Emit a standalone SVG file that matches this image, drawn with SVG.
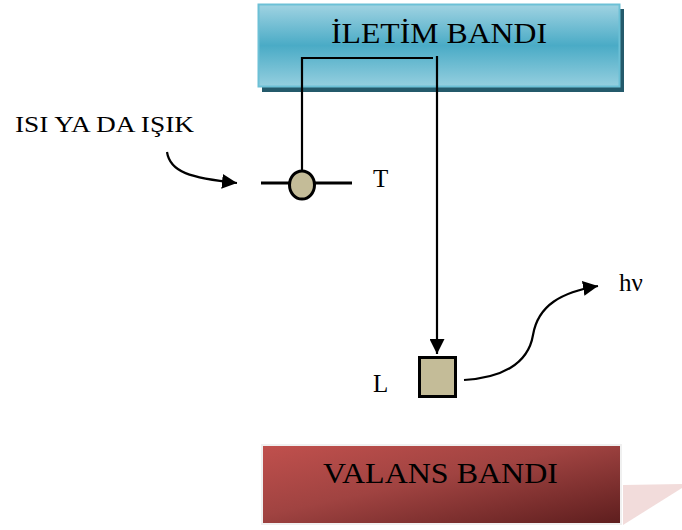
<svg xmlns="http://www.w3.org/2000/svg" width="682" height="530" viewBox="0 0 682 530">
<defs>
<linearGradient id="gBlue" x1="0" y1="0" x2="0" y2="1">
<stop offset="0" stop-color="#a0d3e2"/>
<stop offset="0.5" stop-color="#4aabc6"/>
<stop offset="1" stop-color="#95cfdf"/>
</linearGradient>
<linearGradient id="gRed" x1="0" y1="0" x2="1" y2="1">
<stop offset="0" stop-color="#c0504d"/>
<stop offset="0.45" stop-color="#a04341"/>
<stop offset="1" stop-color="#5e1e1e"/>
</linearGradient>
<marker id="ah" viewBox="0 0 10 10" refX="10" refY="5" markerWidth="15" markerHeight="15" markerUnits="userSpaceOnUse" orient="auto">
<path d="M0,0 L10,5 L0,10 Z" fill="#000"/>
</marker>
<style>
.lbl{font-family:"Liberation Serif","Times New Roman",serif;fill:#000}
.ln{fill:none;stroke:#000;stroke-width:2.2}
.part{fill:#c4bc98;stroke:#000;stroke-width:3}
</style>
</defs>
<g id="iletim">
<rect x="262" y="9" width="362" height="83" fill="#245a6b"/>
<rect x="258.5" y="4.5" width="361" height="82" fill="url(#gBlue)" stroke="#6cc0d6" stroke-width="2"/>
<text class="lbl" x="439" y="43" font-size="30" text-anchor="middle" textLength="216" lengthAdjust="spacingAndGlyphs">İLETİM BANDI</text>
</g>
<g id="valans">
<polygon points="623,485 682,484 682,488 623,525" fill="#f2dcdb"/>
<rect x="261" y="444" width="361" height="81" fill="#f0f0f0"/>
<rect x="263" y="446" width="357" height="77" fill="url(#gRed)"/>
<text class="lbl" x="440.5" y="483" font-size="30" text-anchor="middle" textLength="235" lengthAdjust="spacingAndGlyphs">VALANS BANDI</text>
</g>
<g id="connectors">
<polyline class="ln" points="302,171 302,58 433,58"/>
<line class="ln" x1="437" y1="56" x2="437" y2="354" marker-end="url(#ah)"/>
<path class="ln" d="M167,152 C170,172 190,178 237,183" marker-end="url(#ah)"/>
<path class="ln" d="M464,380 C500,378 528,365 533,335 C538,305 562,292 598,286" marker-end="url(#ah)"/>
<line x1="261" y1="183" x2="352" y2="183" stroke="#000" stroke-width="3"/>
</g>
<g id="heat-label">
<text class="lbl" x="15" y="132" font-size="24" textLength="179" lengthAdjust="spacingAndGlyphs">ISI YA DA IŞIK</text>
</g>
<g id="trap-T">
<ellipse class="part" cx="302" cy="185" rx="12.5" ry="14"/>
<text class="lbl" x="373" y="187" font-size="25">T</text>
</g>
<g id="trap-L">
<rect class="part" x="419.5" y="357.5" width="36" height="39"/>
<text class="lbl" x="373" y="392" font-size="25">L</text>
</g>
<g id="hv">
<text class="lbl" x="619" y="291" font-size="25">hν</text>
</g>
</svg>
